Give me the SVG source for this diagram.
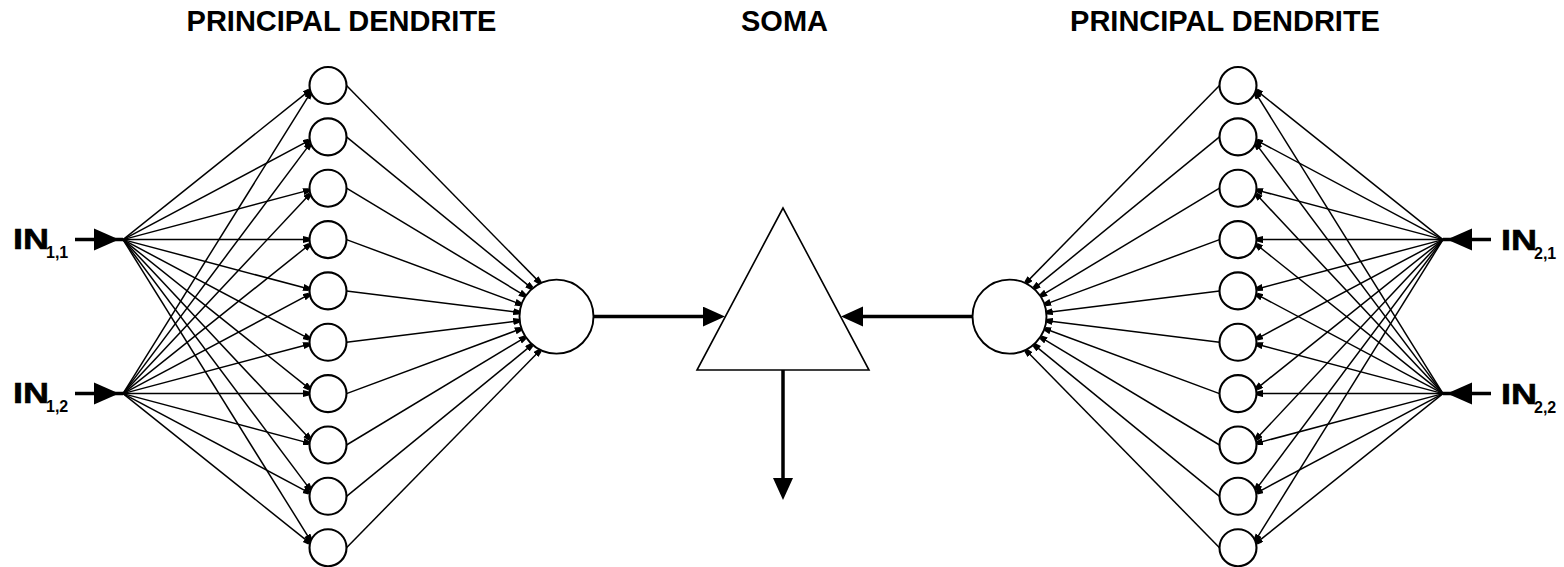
<svg xmlns="http://www.w3.org/2000/svg" width="1564" height="567" viewBox="0 0 1564 567">
  <style>
    .title { font-family: "Liberation Sans", Arial, sans-serif; font-weight: bold; font-size: 29px; fill: #000; }
    .in { font-family: "Liberation Sans", Arial, sans-serif; font-weight: bold; font-size: 29px; fill: #000; stroke: #000; stroke-width: 0.6; }
    .sub { font-family: "Liberation Sans", Arial, sans-serif; font-weight: bold; font-size: 16px; fill: #000; }
    .fan { stroke: #000; stroke-width: 1.5; fill: none; marker-end: url(#tip); }
    .thick { stroke: #000; stroke-width: 3.5; fill: none; }
    .small { fill: #fff; stroke: #000; stroke-width: 2.1; }
    .big { fill: #fff; stroke: #000; stroke-width: 1.9; }
    .soma { fill: #fff; stroke: #000; stroke-width: 1.6; stroke-linejoin: miter; }
    .head { fill: #000; }
  </style>
  <defs>
    <marker id="tip" markerUnits="userSpaceOnUse" markerWidth="8" markerHeight="8" refX="6" refY="3.5" orient="auto">
      <path d="M0,0 L6,1.5 L6,5.5 L0,7 z" fill="#000"/>
    </marker>
    <marker id="bigHead" markerUnits="userSpaceOnUse" markerWidth="23" markerHeight="21" refX="12" refY="10" orient="auto">
      <path d="M0,0 L22,10 L0,20 z" fill="#000"/>
    </marker>
  </defs>

  <!-- connectors -->
  <g id="connectors">
    <!-- left inputs to first-layer units -->
    <g id="fan-in-1-1">
      <path class="fan" d="M123,239.6 L309.6,90.4"/>
      <path class="fan" d="M123,239.6 L309.3,140.4"/>
      <path class="fan" d="M123,239.6 L309.1,190.1"/>
      <path class="fan" d="M123,239.6 L309,239.6"/>
      <path class="fan" d="M123,239.6 L309.1,289.0"/>
      <path class="fan" d="M123,239.6 L309.3,338.8"/>
      <path class="fan" d="M123,239.6 L309.6,388.8"/>
      <path class="fan" d="M123,239.6 L309.9,439.1"/>
      <path class="fan" d="M123,239.6 L310.2,489.6"/>
      <path class="fan" d="M123,239.6 L310.5,540.4"/>
    </g>
    <g id="fan-in-1-2">
      <path class="fan" d="M123,393.6 L310.5,92.8"/>
      <path class="fan" d="M123,393.6 L310.2,143.6"/>
      <path class="fan" d="M123,393.6 L309.9,194.1"/>
      <path class="fan" d="M123,393.6 L309.6,244.5"/>
      <path class="fan" d="M123,393.6 L309.3,294.4"/>
      <path class="fan" d="M123,393.6 L309.1,344.2"/>
      <path class="fan" d="M123,393.6 L309,393.6"/>
      <path class="fan" d="M123,393.6 L309.1,443.1"/>
      <path class="fan" d="M123,393.6 L309.3,492.8"/>
      <path class="fan" d="M123,393.6 L309.6,542.9"/>
    </g>
    <!-- left first layer to left principal unit -->
    <g id="fan-left-converge">
      <path class="fan" d="M346.5,85.5 L540.1,282.9"/>
      <path class="fan" d="M346.5,136.9 L531.9,288.3"/>
      <path class="fan" d="M346.5,188.2 L525.2,295.9"/>
      <path class="fan" d="M346.5,239.6 L521.0,304.4"/>
      <path class="fan" d="M346.5,290.9 L519.2,312.4"/>
      <path class="fan" d="M346.5,342.3 L519.2,320.8"/>
      <path class="fan" d="M346.5,393.6 L521.0,328.8"/>
      <path class="fan" d="M346.5,445.0 L525.2,337.3"/>
      <path class="fan" d="M346.5,496.3 L531.9,344.9"/>
      <path class="fan" d="M346.5,547.7 L540.1,350.3"/>
    </g>
    <!-- right inputs to first-layer units -->
    <g id="fan-in-2-1">
      <path class="fan" d="M1443,239.6 L1256.4,90.4"/>
      <path class="fan" d="M1443,239.6 L1256.7,140.4"/>
      <path class="fan" d="M1443,239.6 L1256.9,190.1"/>
      <path class="fan" d="M1443,239.6 L1257,239.6"/>
      <path class="fan" d="M1443,239.6 L1256.9,289.0"/>
      <path class="fan" d="M1443,239.6 L1256.7,338.8"/>
      <path class="fan" d="M1443,239.6 L1256.4,388.8"/>
      <path class="fan" d="M1443,239.6 L1256.1,439.1"/>
      <path class="fan" d="M1443,239.6 L1255.8,489.6"/>
      <path class="fan" d="M1443,239.6 L1255.5,540.4"/>
    </g>
    <g id="fan-in-2-2">
      <path class="fan" d="M1443,393.6 L1255.5,92.8"/>
      <path class="fan" d="M1443,393.6 L1255.8,143.6"/>
      <path class="fan" d="M1443,393.6 L1256.1,194.1"/>
      <path class="fan" d="M1443,393.6 L1256.4,244.5"/>
      <path class="fan" d="M1443,393.6 L1256.7,294.4"/>
      <path class="fan" d="M1443,393.6 L1256.9,344.2"/>
      <path class="fan" d="M1443,393.6 L1257,393.6"/>
      <path class="fan" d="M1443,393.6 L1256.9,443.1"/>
      <path class="fan" d="M1443,393.6 L1256.7,492.8"/>
      <path class="fan" d="M1443,393.6 L1256.4,542.9"/>
    </g>
    <!-- right first layer to right principal unit -->
    <g id="fan-right-converge">
      <path class="fan" d="M1219.5,85.5 L1025.9,282.9"/>
      <path class="fan" d="M1219.5,136.9 L1034.1,288.3"/>
      <path class="fan" d="M1219.5,188.2 L1040.8,295.9"/>
      <path class="fan" d="M1219.5,239.6 L1045.0,304.4"/>
      <path class="fan" d="M1219.5,290.9 L1046.8,312.4"/>
      <path class="fan" d="M1219.5,342.3 L1046.8,320.8"/>
      <path class="fan" d="M1219.5,393.6 L1045.0,328.8"/>
      <path class="fan" d="M1219.5,445.0 L1040.8,337.3"/>
      <path class="fan" d="M1219.5,496.3 L1034.1,344.9"/>
      <path class="fan" d="M1219.5,547.7 L1025.9,350.3"/>
    </g>
    <!-- input arrows -->
    <g id="input-arrows">
      <path class="thick" d="M75,239.6 H123"/>
      <path class="head" d="M119,239.6 L94,228.6 L94,250.6 z"/>
      <path class="thick" d="M75,393.6 H123"/>
      <path class="head" d="M119,393.6 L94,382.6 L94,404.6 z"/>
      <path class="thick" d="M1491,239.6 H1443"/>
      <path class="head" d="M1447,239.6 L1472,228.6 L1472,250.6 z"/>
      <path class="thick" d="M1491,393.6 H1443"/>
      <path class="head" d="M1447,393.6 L1472,382.6 L1472,404.6 z"/>
    </g>
    <!-- dendrites to soma, soma output -->
    <path id="left-to-soma" class="thick" d="M593.5,316.6 H715" marker-end="url(#bigHead)"/>
    <path id="right-to-soma" class="thick" d="M972.5,316.6 H851" marker-end="url(#bigHead)"/>
    <path id="soma-out" class="thick" d="M783,370 V490" marker-end="url(#bigHead)"/>
  </g>

  <!-- left first-layer units -->
  <g id="left-units">
    <g id="L0"><circle class="small" cx="328" cy="85.5" r="18.5"/></g>
    <g id="L1"><circle class="small" cx="328" cy="136.9" r="18.5"/></g>
    <g id="L2"><circle class="small" cx="328" cy="188.2" r="18.5"/></g>
    <g id="L3"><circle class="small" cx="328" cy="239.6" r="18.5"/></g>
    <g id="L4"><circle class="small" cx="328" cy="290.9" r="18.5"/></g>
    <g id="L5"><circle class="small" cx="328" cy="342.3" r="18.5"/></g>
    <g id="L6"><circle class="small" cx="328" cy="393.6" r="18.5"/></g>
    <g id="L7"><circle class="small" cx="328" cy="445.0" r="18.5"/></g>
    <g id="L8"><circle class="small" cx="328" cy="496.3" r="18.5"/></g>
    <g id="L9"><circle class="small" cx="328" cy="547.7" r="18.5"/></g>
  </g>

  <!-- right first-layer units -->
  <g id="right-units">
    <g id="R0"><circle class="small" cx="1238" cy="85.5" r="18.5"/></g>
    <g id="R1"><circle class="small" cx="1238" cy="136.9" r="18.5"/></g>
    <g id="R2"><circle class="small" cx="1238" cy="188.2" r="18.5"/></g>
    <g id="R3"><circle class="small" cx="1238" cy="239.6" r="18.5"/></g>
    <g id="R4"><circle class="small" cx="1238" cy="290.9" r="18.5"/></g>
    <g id="R5"><circle class="small" cx="1238" cy="342.3" r="18.5"/></g>
    <g id="R6"><circle class="small" cx="1238" cy="393.6" r="18.5"/></g>
    <g id="R7"><circle class="small" cx="1238" cy="445.0" r="18.5"/></g>
    <g id="R8"><circle class="small" cx="1238" cy="496.3" r="18.5"/></g>
    <g id="R9"><circle class="small" cx="1238" cy="547.7" r="18.5"/></g>
  </g>

  <!-- principal dendrite units -->
  <g id="left-principal"><circle class="big" cx="556.5" cy="316.6" r="37"/></g>
  <g id="right-principal"><circle class="big" cx="1009.5" cy="316.6" r="37"/></g>

  <!-- soma -->
  <g id="soma"><polygon class="soma" points="783,208 697,370 869,370"/></g>

  <!-- titles -->
  <g id="titles">
    <text class="title" x="341.5" y="31" text-anchor="middle">PRINCIPAL DENDRITE</text>
    <text class="title" x="784.5" y="31" text-anchor="middle">SOMA</text>
    <text class="title" x="1225" y="31" text-anchor="middle">PRINCIPAL DENDRITE</text>
  </g>

  <!-- input labels -->
  <g id="in-1-1"><text class="in" x="13" y="249" textLength="36" lengthAdjust="spacingAndGlyphs">IN</text><text class="sub" x="46" y="258">1,1</text></g>
  <g id="in-1-2"><text class="in" x="13" y="403" textLength="36" lengthAdjust="spacingAndGlyphs">IN</text><text class="sub" x="46" y="412">1,2</text></g>
  <g id="in-2-1"><text class="in" x="1501" y="250" textLength="36" lengthAdjust="spacingAndGlyphs">IN</text><text class="sub" x="1534" y="259">2,1</text></g>
  <g id="in-2-2"><text class="in" x="1501" y="404" textLength="36" lengthAdjust="spacingAndGlyphs">IN</text><text class="sub" x="1534" y="413">2,2</text></g>
</svg>
